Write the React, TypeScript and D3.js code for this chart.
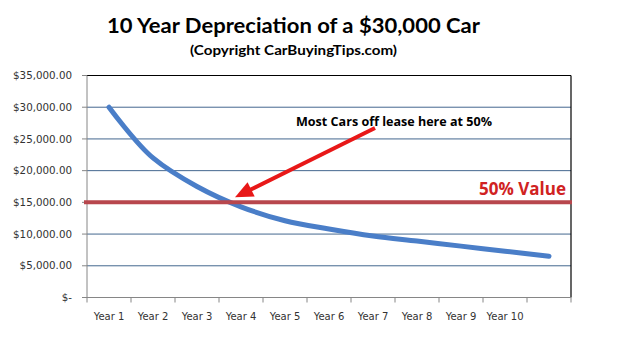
import React from "react";
import * as d3 from "d3";

const categories = ["Year 1", "Year 2", "Year 3", "Year 4", "Year 5", "Year 6", "Year 7", "Year 8", "Year 9", "Year 10", ""];
const values = [30000, 22000, 17500, 14300, 12100, 10800, 9700, 8900, 8100, 7300, 6500];
const yTicks = [0, 5000, 10000, 15000, 20000, 25000, 30000, 35000];
const halfValue = 15000;
const title = "10 Year Depreciation of a $30,000 Car";
const subtitle = "(Copyright CarBuyingTips.com)";
const annotation = "Most Cars off lease here at 50%";
const halfLabel = "50% Value";

const W = 640, H = 346;
const L = 87, R = 571, T = 75.5, B = 297.5;

const fmt = (v: number) => (v === 0 ? "$-" : "$" + d3.format(",.2f")(v));

export default function App() {
  const keys = categories.map((c, i) => c + "|" + i);
  const x = d3.scaleBand<string>().domain(keys).range([L, R]).paddingInner(0).paddingOuter(0);
  const y = d3.scaleLinear().domain([0, 35000]).range([B, T]);
  const bw = x.bandwidth();
  const cx = (i: number) => (x(keys[i]) as number) + bw / 2;
  const line = d3.line<number>().x((_, i) => cx(i)).y((d) => y(d)).curve(d3.curveCatmullRom.alpha(1));

  const boundaries = d3.range(categories.length + 1).map((i) => L + i * bw);

  // arrow
  const tipX = cx(3) - 6, tipY = y(halfValue) - 5;
  const sX = 375, sY = 128;
  const dx = tipX - sX, dy = tipY - sY;
  const len = Math.hypot(dx, dy);
  const ux = dx / len, uy = dy / len;
  const hl = 18, hw = 8;
  const bx = tipX - ux * hl, by = tipY - uy * hl;
  const px = -uy, py = ux;
  const head = `${tipX},${tipY} ${bx + px * hw},${by + py * hw} ${bx - px * hw},${by - py * hw}`;

  return (
    <div style={{ position: "absolute", left: 0, top: 0 }}>
      <svg width={W} height={H} style={{ display: "block", background: "#fff" }}>
        <rect width={W} height={H} fill="#fff" />
        <text x={107} y={33} fontFamily="Lato" fontWeight="bold" fontSize={20} fill="#000" textLength={373} lengthAdjust="spacingAndGlyphs">{title}</text>
        <text x={190} y={55} fontFamily="Lato" fontWeight="bold" fontSize={14} fill="#000" textLength={207} lengthAdjust="spacingAndGlyphs">{subtitle}</text>

        {yTicks.filter((v) => v > 0 && v < 35000).map((v) => (
          <line key={"g" + v} x1={L} x2={R} y1={y(v)} y2={y(v)} stroke="#44678f" strokeWidth={1} />
        ))}
        <line x1={L} x2={R} y1={T} y2={T} stroke="#000" strokeWidth={1.2} />
        <line x1={R} x2={R} y1={T} y2={B} stroke="#000" strokeWidth={1.2} />
        <line x1={L} x2={L} y1={T} y2={B} stroke="#868686" strokeWidth={1} />
        <line x1={L} x2={R} y1={B} y2={B} stroke="#868686" strokeWidth={1} />
        {yTicks.map((v) => (
          <g key={"yt" + v}>
            <line x1={L - 5} x2={L} y1={y(v)} y2={y(v)} stroke="#868686" />
            <text x={72} y={y(v)} dy="0.35em" textAnchor="end" fontFamily="DejaVu Sans" fontSize={10.3} fill="#333">{fmt(v)}</text>
          </g>
        ))}
        {boundaries.map((bx2, i) => (
          <line key={"xt" + i} x1={bx2} x2={bx2} y1={B} y2={B + 5} stroke="#868686" />
        ))}
        {categories.map((c, i) => (
          <text key={"xl" + i} x={cx(i)} y={316} dy="0.35em" textAnchor="middle" fontFamily="DejaVu Sans" fontSize={10} fill="#333">{c}</text>
        ))}

        <path d={line(values) as string} fill="none" stroke="#4a7ec8" strokeWidth={5} strokeLinecap="round" strokeLinejoin="round" />

        <line x1={L - 3} x2={R + 1} y1={y(halfValue)} y2={y(halfValue)} stroke="#b8474d" strokeWidth={4} />
        <text x={566} y={195} textAnchor="end" fontFamily="Open Sans" fontWeight="bold" fontSize={17} fill="#d02222">{halfLabel}</text>

        <text x={296} y={126} fontFamily="Open Sans" fontWeight="bold" fontSize={11.5} fill="#000" textLength={196} lengthAdjust="spacingAndGlyphs">{annotation}</text>
        <line x1={sX} y1={sY} x2={tipX - ux * (hl - 2)} y2={tipY - uy * (hl - 2)} stroke="#e81818" strokeWidth={4} />
        <polygon points={head} fill="#e81818" />
      </svg>
    </div>
  );
}
